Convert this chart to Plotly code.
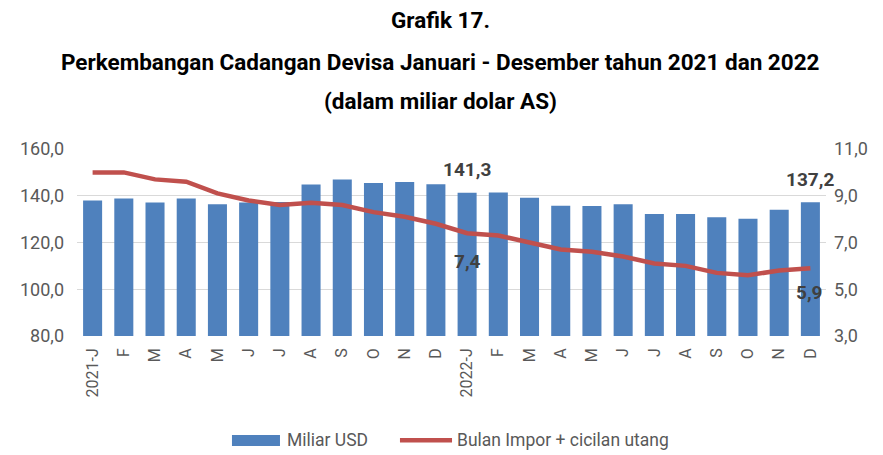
import plotly.graph_objects as go

months = ["2021-J", "F", "M", "A", "M", "J", "J", "A", "S", "O", "N", "D",
          "2022-J", "F", "M", "A", "M", "J", "J", "A", "S", "O", "N", "D"]
cadangan = [138.0, 138.8, 137.1, 138.8, 136.4, 137.1, 137.3, 144.8, 146.9, 145.5, 145.9, 144.9,
            141.3, 141.4, 139.1, 135.7, 135.6, 136.4, 132.2, 132.2, 130.8, 130.2, 134.0, 137.2]
bulan_impor = [10.0, 10.0, 9.7, 9.6, 9.1, 8.8, 8.6, 8.7, 8.6, 8.3, 8.1, 7.8,
               7.4, 7.3, 7.0, 6.7, 6.6, 6.4, 6.1, 6.0, 5.7, 5.6, 5.8, 5.9]
left_ticks = [80, 100, 120, 140, 160]
right_ticks = [3, 5, 7, 9, 11]
title_lines = ["Grafik 17.",
               "Perkembangan Cadangan Devisa Januari - Desember tahun 2021 dan 2022",
               "(dalam miliar dolar AS)"]
series_names = ["Miliar USD", "Bulan Impor + cicilan utang"]

FONT = "Roboto, sans-serif"
GRAY = "#595959"
DARK = "#404040"
BLUE = "#4F81BD"
RED = "#C0504D"

x = list(range(len(months)))

fig = go.Figure()
fig.add_trace(go.Bar(x=x, y=cadangan, name=series_names[0], marker_color=BLUE,
                     marker_line_width=0, width=0.61, yaxis="y", showlegend=False))
fig.add_trace(go.Scatter(x=x, y=bulan_impor, name=series_names[1],
                         mode="lines", line=dict(color=RED, width=4.5), yaxis="y2",
                         showlegend=False))

# title lines
for txt, py in zip(title_lines, [1.69, 1.465, 1.257]):
    fig.add_annotation(x=0.485, xref="paper", y=py, yref="paper", text="<b>" + txt + "</b>",
                       showarrow=False, xanchor="center", yanchor="middle",
                       font=dict(family=FONT, size=22.5, color="#000000"))

# data labels
fig.add_annotation(x=12, y=cadangan[12], yref="y", text="<b>141,3</b>", showarrow=False,
                   yshift=23, font=dict(family=FONT, size=19, color=DARK))
fig.add_annotation(x=23, y=cadangan[23], yref="y", text="<b>137,2</b>", showarrow=False,
                   yshift=23, font=dict(family=FONT, size=19, color=DARK))
fig.add_annotation(x=12, y=bulan_impor[12], yref="y2", text="<b>7,4</b>", showarrow=False,
                   yshift=-28, font=dict(family=FONT, size=19, color=DARK))
fig.add_annotation(x=23, y=bulan_impor[23], yref="y2", text="<b>5,9</b>", showarrow=False,
                   yshift=-24, xshift=-1, font=dict(family=FONT, size=19, color=DARK))

# legend (drawn as key shapes + text, Excel-style wide keys)
fig.add_shape(type="rect", xref="paper", yref="paper", x0=0.2069, x1=0.2710,
              y0=-0.588, y1=-0.529, fillcolor=BLUE, line_width=0)
fig.add_shape(type="line", xref="paper", yref="paper", x0=0.4312, x1=0.5007,
              y0=-0.558, y1=-0.558, line=dict(color=RED, width=4.5))
fig.add_annotation(x=0.2777, xref="paper", y=-0.558, yref="paper", text=series_names[0],
                   showarrow=False, xanchor="left", yanchor="middle",
                   font=dict(family=FONT, size=17.5, color=GRAY))
fig.add_annotation(x=0.5047, xref="paper", y=-0.558, yref="paper", text=series_names[1],
                   showarrow=False, xanchor="left", yanchor="middle",
                   font=dict(family=FONT, size=17.5, color=GRAY))

fig.update_layout(
    width=883, height=455,
    margin=dict(l=77, r=57, t=149, b=119, autoexpand=False),
    paper_bgcolor="white", plot_bgcolor="white",
    separators=",.",
    font=dict(family=FONT, color=GRAY, size=16),
    xaxis=dict(tickmode="array", tickvals=x, ticktext=months, tickangle=-90,
               range=[-0.5, 23.5], showgrid=False, showline=False, ticks="",
               ticklabelstandoff=8,
               tickfont=dict(family=FONT, size=16, color=GRAY)),
    yaxis=dict(range=[80, 160], tickvals=left_ticks, tickformat=".1f",
               showgrid=True, gridcolor="#D9D9D9", gridwidth=1, zeroline=False,
               showline=False, ticklabelstandoff=12,
               tickfont=dict(family=FONT, size=18, color=GRAY)),
    yaxis2=dict(range=[3, 11], tickvals=right_ticks, tickformat=".1f", overlaying="y",
                side="right", showgrid=False, zeroline=False, showline=False,
                ticklabelstandoff=7,
                tickfont=dict(family=FONT, size=18, color=GRAY)),
    showlegend=False,
)

fig.write_html("out.html", config={"displayModeBar": False},
               post_script="document.body.style.margin='0';")
